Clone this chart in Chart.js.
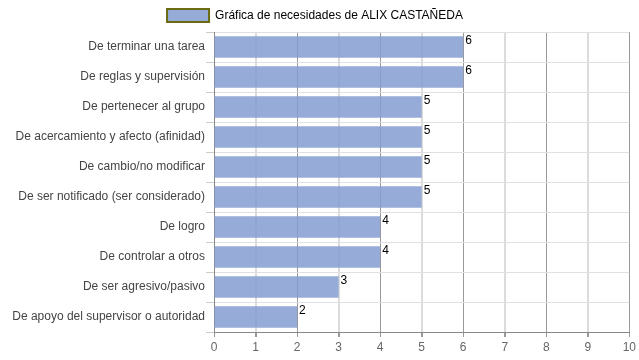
<!DOCTYPE html>
<html>
<head>
<meta charset="utf-8">
<script src="https://cdn.jsdelivr.net/npm/chart.js@4"></script>
<style>
html,body{margin:0;padding:0;background:#fff;}
#wrap{width:639px;height:360px;}
</style>
</head>
<body>
<div id="wrap"><canvas id="c" width="639" height="360"></canvas></div>
<script>
const categories = [
  "De terminar una tarea",
  "De reglas y supervisión",
  "De pertenecer al grupo",
  "De acercamiento y afecto (afinidad)",
  "De cambio/no modificar",
  "De ser notificado (ser considerado)",
  "De logro",
  "De controlar a otros",
  "De ser agresivo/pasivo",
  "De apoyo del supervisor o autoridad"
];
const values = [6, 6, 5, 5, 5, 5, 4, 4, 3, 2];
const seriesName = "Gráfica de necesidades de ALIX CASTAÑEDA";
const xTicks = [0, 1, 2, 3, 4, 5, 6, 7, 8, 9, 10];

const valueLabels = {
  id: 'valueLabels',
  afterDatasetsDraw(chart) {
    const ctx = chart.ctx;
    const meta = chart.getDatasetMeta(0);
    ctx.save();
    ctx.font = '12px "Liberation Sans", Arial, sans-serif';
    ctx.fillStyle = '#000';
    ctx.textAlign = 'left';
    ctx.textBaseline = 'top';
    meta.data.forEach((bar, i) => {
      const top = bar.y - bar.height / 2;
      ctx.fillText(String(values[i]), bar.x + 2, top - 2);
    });
    ctx.restore();
  }
};

new Chart(document.getElementById('c'), {
  type: 'bar',
  data: {
    labels: categories,
    datasets: [{
      label: seriesName,
      data: values,
      backgroundColor: 'rgba(132,156,208,0.85)',
      borderWidth: 0,
      barPercentage: 0.72,
      categoryPercentage: 1.0
    }]
  },
  options: {
    indexAxis: 'y',
    responsive: false,
    animation: false,
    layout: { padding: { left: 0, right: 9, top: 0, bottom: 0 } },
    plugins: {
      tooltip: { enabled: false },
      legend: {
        position: 'top',
        labels: {
          boxWidth: 42,
          boxHeight: 13,
          padding: 9,
          color: '#555',
          font: { family: '"Liberation Sans", Arial, sans-serif', size: 12 },
          generateLabels(chart) {
            return [{
              text: seriesName,
              fillStyle: '#97abd9',
              strokeStyle: '#6b6b12',
              lineWidth: 2,
              datasetIndex: 0
            }];
          }
        }
      }
    },
    scales: {
      x: {
        min: 0,
        max: 10,
        afterBuildTicks(axis) { axis.ticks = xTicks.map(v => ({ value: v })); },
        afterFit(axis) { axis.height = 28; },
        ticks: {
          color: '#666',
          padding: 3,
          font: { family: '"Liberation Sans", Arial, sans-serif', size: 12 }
        },
        border: { color: '#888', width: 1 },
        grid: {
          color: (ctx) => (ctx.index % 2 === 1 ? '#dcdcdc' : '#999'),
          lineWidth: (ctx) => (ctx.index % 2 === 1 ? 2 : 1),
          tickColor: '#999',
          tickLength: 5
        }
      },
      y: {
        afterFit(axis) { axis.width = 214; },
        ticks: {
          color: '#444',
          padding: 1,
          font: { family: '"Liberation Sans", Arial, sans-serif', size: 12 }
        },
        border: { color: '#888', width: 1 },
        grid: {
          color: '#e0e0e0',
          tickColor: '#ccc',
          tickLength: 8
        }
      }
    }
  },
  plugins: [valueLabels]
});
</script>
</body>
</html>
